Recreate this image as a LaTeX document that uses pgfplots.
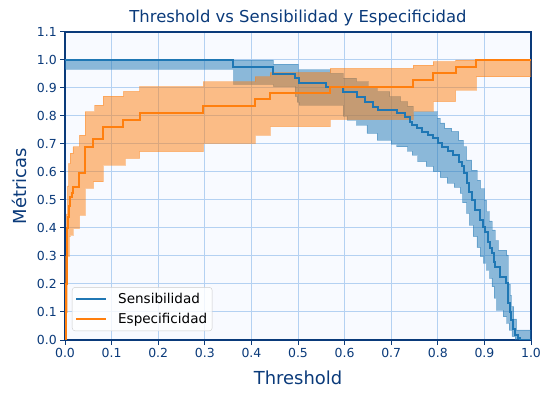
\documentclass[border=0pt]{standalone}
\usepackage{fontspec}
\setmainfont{DejaVu Sans}
\usepackage{pgfplots}
\pgfplotsset{compat=1.18}
\usepackage{pgfplotstable}
\usepgfplotslibrary{fillbetween}

\definecolor{sblue}{HTML}{1F77B4}
\definecolor{sorange}{HTML}{FF7F0E}
\definecolor{navy}{HTML}{0A3A7A}
\definecolor{gridc}{HTML}{B4D1F2}
\definecolor{bg}{HTML}{F8FAFF}

\pgfplotstableread{
t v
0.000 1.000
0.360 0.976
0.447 0.949
0.494 0.935
0.502 0.919
0.561 0.905
0.597 0.887
0.626 0.869
0.644 0.849
0.661 0.833
0.672 0.821
0.712 0.810
0.730 0.798
0.740 0.780
0.745 0.768
0.755 0.757
0.767 0.744
0.778 0.733
0.790 0.721
0.800 0.705
0.810 0.690
0.822 0.675
0.833 0.660
0.845 0.637
0.852 0.620
0.857 0.595
0.862 0.560
0.866 0.530
0.873 0.500
0.880 0.464
0.891 0.429
0.896 0.405
0.901 0.387
0.908 0.351
0.912 0.330
0.916 0.310
0.920 0.280
0.923 0.262
0.933 0.226
0.946 0.202
0.951 0.131
0.955 0.100
0.958 0.071
0.962 0.040
0.966 0.018
0.973 0.006
0.976 0.000
1.000 0.000
}\sensmean

\pgfplotstableread{
t v
0.000 1.000
0.447 0.985
0.500 0.965
0.569 0.952
0.597 0.935
0.626 0.922
0.650 0.905
0.670 0.887
0.697 0.869
0.720 0.851
0.735 0.835
0.747 0.815
0.798 0.792
0.805 0.775
0.815 0.757
0.830 0.745
0.845 0.714
0.855 0.690
0.862 0.643
0.873 0.607
0.884 0.571
0.892 0.540
0.900 0.500
0.905 0.458
0.910 0.425
0.916 0.393
0.923 0.355
0.930 0.321
0.948 0.304
0.951 0.200
0.955 0.160
0.958 0.119
0.963 0.075
0.969 0.036
1.000 0.036
}\sensup

\pgfplotstableread{
t v
0.000 0.967
0.362 0.913
0.447 0.905
0.494 0.869
0.498 0.850
0.502 0.839
0.597 0.800
0.605 0.786
0.626 0.768
0.648 0.738
0.670 0.714
0.700 0.700
0.712 0.690
0.735 0.675
0.745 0.661
0.757 0.637
0.775 0.620
0.790 0.601
0.805 0.580
0.820 0.560
0.835 0.545
0.848 0.524
0.853 0.490
0.862 0.452
0.868 0.410
0.876 0.369
0.884 0.330
0.891 0.298
0.898 0.275
0.905 0.250
0.911 0.220
0.916 0.190
0.921 0.150
0.926 0.107
0.940 0.083
0.948 0.060
0.953 0.035
0.959 0.012
0.966 0.000
1.000 0.000
}\senslow

\pgfplotstableread{
t v
0.000 0.000
0.002 0.200
0.0036 0.320
0.005 0.400
0.007 0.440
0.009 0.480
0.011 0.512
0.015 0.524
0.017 0.548
0.031 0.595
0.043 0.690
0.061 0.717
0.082 0.762
0.125 0.786
0.160 0.812
0.297 0.836
0.408 0.860
0.440 0.883
0.569 0.905
0.747 0.929
0.790 0.952
0.838 0.976
0.883 1.000
1.000 1.000
}\specmean

\pgfplotstableread{
t v
0.000 0.000
0.001 0.300
0.003 0.450
0.005 0.550
0.008 0.630
0.011 0.667
0.017 0.690
0.031 0.732
0.043 0.815
0.064 0.839
0.082 0.871
0.125 0.888
0.160 0.905
0.297 0.922
0.408 0.940
0.440 0.955
0.569 0.970
0.747 0.982
0.790 0.994
0.838 1.000
1.000 1.000
}\specup

\pgfplotstableread{
t v
0.000 0.000
0.002 0.100
0.004 0.200
0.006 0.300
0.009 0.369
0.011 0.375
0.017 0.399
0.031 0.446
0.043 0.542
0.061 0.565
0.082 0.625
0.129 0.649
0.160 0.673
0.297 0.702
0.408 0.732
0.440 0.762
0.569 0.788
0.747 0.818
0.790 0.851
0.838 0.893
0.883 0.940
1.000 0.940
}\speclow

\begin{document}
\begin{tikzpicture}
\begin{axis}[
  width=466bp, height=308bp, scale only axis,
  xmin=0, xmax=1, ymin=0, ymax=1.1,
  xtick={0,0.1,0.2,0.3,0.4,0.5,0.6,0.7,0.8,0.9,1.0},
  ytick={0,0.1,0.2,0.3,0.4,0.5,0.6,0.7,0.8,0.9,1.0,1.1},
  xticklabel style={/pgf/number format/.cd, fixed, fixed zerofill, precision=1},
  yticklabel style={/pgf/number format/.cd, fixed, fixed zerofill, precision=1},
  /pgf/number format/assume math mode=true,
  ticklabel style={font=\fontsize{12.5}{14}\selectfont, text=navy},
  xtick pos=bottom, ytick pos=left,
  tick align=outside, major tick length=4.8bp,
  tick style={navy, line width=1bp},
  axis line style={navy, line width=1.1bp},
  axis background/.style={fill=bg},
  grid=major, major grid style={gridc, line width=1bp},
  every axis title shift=0pt,
  title={Threshold vs Sensibilidad y Especificidad},
  title style={at={(rel axis cs:0.5,1.0455)}, anchor=center, font=\fontsize{16.5}{19}\selectfont, text=navy, inner sep=0pt},
  xlabel={Threshold},
  xlabel style={at={(rel axis cs:0.5,-0.1234)}, anchor=center, font=\fontsize{18}{21}\selectfont, text=navy, inner sep=0pt},
  ylabel={Métricas},
  ylabel style={at={(rel axis cs:-0.0987,0.5)}, anchor=center, font=\fontsize{18}{21}\selectfont, text=navy, inner sep=0pt},
  legend style={at={(rel axis cs:0.015,0.029)}, anchor=south west, draw=black!20, fill=white, fill opacity=0.8, text opacity=1, rounded corners=3bp, font=\fontsize{13.6}{16}\selectfont, inner xsep=3bp, inner ysep=4bp, row sep=4bp, cells={anchor=west}},
  legend image code/.code={\draw[#1, line width=2bp] (0bp,0bp) -- (30bp,0bp); \path (39bp,0bp);},
  const plot,
]
\coordinate (bl) at (rel axis cs:0,0);
\coordinate (tr) at (rel axis cs:1,1);

\addplot[draw=none, name path=su, forget plot] table[x=t, y=v] {\sensup};
\addplot[draw=none, name path=sl, forget plot] table[x=t, y=v] {\senslow};
\addplot[fill=sblue, fill opacity=0.5, draw=sblue, draw opacity=0.35, line width=0.7bp, forget plot] fill between[of=su and sl];

\addplot[draw=none, name path=ou, forget plot] table[x=t, y=v] {\specup};
\addplot[draw=none, name path=ol, forget plot] table[x=t, y=v] {\speclow};
\addplot[fill=sorange, fill opacity=0.5, draw=sorange, draw opacity=0.35, line width=0.7bp, forget plot] fill between[of=ou and ol];

\addplot[sblue, line width=2bp] table[x=t, y=v] {\sensmean};
\addlegendentry{Sensibilidad}
\addplot[sorange, line width=2bp] table[x=t, y=v] {\specmean};
\addlegendentry{Especificidad}
\end{axis}
\pgfresetboundingbox
\path[use as bounding box] ([shift={(-65bp,-57bp)}]bl) rectangle ([shift={(20bp,32bp)}]tr);
\end{tikzpicture}
\end{document}
